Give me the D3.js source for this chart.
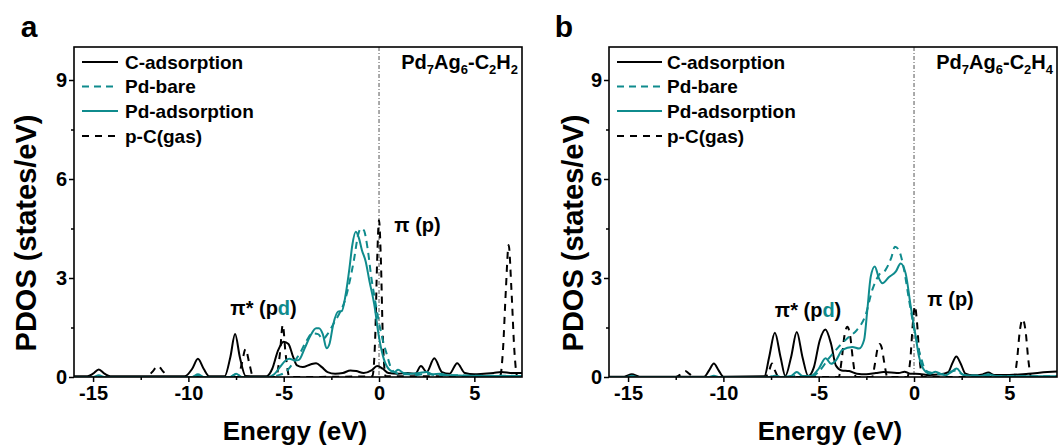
<!DOCTYPE html>
<html>
<head>
<meta charset="utf-8">
<script src="https://cdn.jsdelivr.net/npm/d3@7.9.0/dist/d3.min.js"></script>
<style>
  body { margin: 0; background: #fff; }
  svg text { font-family: "Liberation Sans", Arial, sans-serif; font-weight: bold; }
</style>
</head>
<body>
<svg id="chart" width="1059" height="446"></svg>
<script>
// ---- data (energy in eV, PDOS in states/eV) ----
const xTicks = [-15, -10, -5, 0, 5];
const xMinor = [-12.5, -7.5, -2.5, 2.5];
const yTicks = [0, 3, 6, 9];
const yMinor = [1.5, 4.5, 7.5];
const seriesNames = ['C-adsorption', 'Pd-bare', 'Pd-adsorption', 'p-C(gas)'];

// panel a : Pd7Ag6-C2H2
const cAdsA = [[-16,0.02],[-15.3,0.02],[-15.0,0.1],[-14.7,0.23],[-14.4,0.1],[-14.1,0.02],[-10.2,0.02],[-9.8,0.25],[-9.5,0.55],[-9.2,0.25],[-8.9,0.02],
  [-8.1,0.02],[-7.8,0.6],[-7.55,1.3],[-7.3,0.6],[-7.0,0.03],[-5.9,0.02],[-5.6,0.25],[-5.3,0.8],[-5.0,1.07],[-4.75,1.0],[-4.5,0.6],[-4.3,0.35],
  [-4.0,0.3],[-3.6,0.38],[-3.3,0.42],[-3.0,0.3],[-2.7,0.15],[-2.3,0.1],[-1.9,0.12],[-1.5,0.2],[-1.2,0.18],[-0.8,0.12],[-0.4,0.2],[-0.1,0.33],
  [0.2,0.25],[0.5,0.12],[1.0,0.1],[1.5,0.12],[1.9,0.1],[2.2,0.33],[2.5,0.15],[2.9,0.57],[3.3,0.15],[3.7,0.1],[4.1,0.42],[4.5,0.12],[5.0,0.08],
  [5.5,0.1],[6.0,0.12],[6.4,0.15],[7.0,0.12],[7.5,0.12]];
const pdBareA = [[-16,0],[-9.8,0],[-9.5,0.05],[-9.2,0],[-7.8,0],[-7.5,0.08],[-7.2,0],[-5.7,0],[-5.3,0.05],[-4.9,0.15],[-4.6,0.35],[-4.15,0.72],
  [-3.8,1.1],[-3.5,1.32],[-3.2,1.3],[-2.95,1.15],[-2.7,1.3],[-2.4,1.6],[-2.1,1.9],[-1.8,2.3],[-1.5,3.0],[-1.3,3.6],[-1.1,4.3],[-0.95,4.5],
  [-0.8,4.45],[-0.6,3.9],[-0.4,3.0],[-0.2,2.3],[0.05,1.5],[0.4,0.7],[0.7,0.2],[1.0,0.1],[1.5,0.08],[2.0,0.06],[2.5,0.1],[3.0,0.05],[4,0.05],
  [5,0.04],[6,0.04],[7.5,0.03]];
const pdAdsA = [[-16,0],[-15.0,0],[-14.7,0.05],[-14.4,0],[-9.8,0],[-9.5,0.08],[-9.2,0],[-7.8,0],[-7.5,0.1],[-7.2,0],[-5.8,0],[-5.5,0.08],
  [-5.2,0.3],[-4.9,0.5],[-4.7,0.55],[-4.4,0.5],[-4.2,0.52],[-3.9,0.87],[-3.6,1.25],[-3.3,1.48],[-3.15,1.48],[-2.95,1.3],[-2.75,0.87],[-2.6,1.0],
  [-2.4,1.6],[-2.15,1.98],[-1.95,2.0],[-1.75,2.5],[-1.55,3.3],[-1.4,4.0],[-1.22,4.4],[-1.05,4.2],[-0.9,3.85],[-0.7,3.5],[-0.5,2.9],[-0.25,2.2],
  [0.0,1.2],[0.25,0.55],[0.55,0.22],[0.8,0.15],[1.0,0.22],[1.3,0.12],[1.7,0.1],[2.1,0.12],[2.5,0.15],[2.8,0.08],[3.2,0.1],[3.6,0.05],[4.5,0.04],
  [5.5,0.03],[6.5,0.03],[7.5,0.03]];
const pcGasA = [[-16,0],[-12.2,0],[-11.9,0.15],[-11.6,0.33],[-11.3,0.15],[-11.0,0],[-7.4,0],[-7.2,0.4],[-7.0,0.85],[-6.8,0.4],[-6.6,0],
  [-5.4,0],[-5.2,0.7],[-5.05,1.58],[-4.9,0.7],[-4.7,0],[-0.35,0.02],[-0.2,1.2],[-0.1,3.5],[0.0,4.75],[0.1,3.5],[0.2,1.2],[0.35,0.02],
  [6.35,0.02],[6.5,0.8],[6.65,2.6],[6.8,4.0],[6.95,2.6],[7.1,0.8],[7.25,0.02],[7.5,0]];

// panel b : Pd7Ag6-C2H4
const cAdsB = [[-16,0.01],[-15.2,0.01],[-14.8,0.08],[-14.4,0.01],[-11.0,0.01],[-10.75,0.2],[-10.5,0.41],[-10.25,0.2],[-10.0,0.01],
  [-7.85,0.02],[-7.6,0.6],[-7.3,1.34],[-7.0,0.6],[-6.75,0.03],[-6.45,0.6],[-6.15,1.36],[-5.85,0.6],[-5.55,0.03],[-5.25,0.3],[-4.95,1.1],
  [-4.65,1.44],[-4.35,1.0],[-4.1,0.35],[-3.8,0.2],[-3.4,0.18],[-3.0,0.1],[-2.5,0.08],[-2.0,0.12],[-1.6,0.15],[-1.2,0.14],[-0.8,0.12],
  [-0.5,0.16],[-0.2,0.1],[0.3,0.09],[0.8,0.06],[1.4,0.08],[1.8,0.15],[2.0,0.4],[2.22,0.62],[2.45,0.4],[2.7,0.1],[3.1,0.05],[3.6,0.08],
  [3.9,0.14],[4.2,0.06],[5.0,0.06],[6.0,0.1],[7.0,0.15],[7.5,0.17]];
const pdBareB = [[-16,0],[-7.6,0],[-7.3,0.05],[-7.0,0],[-6.4,0],[-6.15,0.05],[-5.9,0],[-5.4,0],[-5.0,0.16],[-4.46,0.57],[-3.94,0.92],
  [-3.41,1.22],[-3.0,1.42],[-2.54,1.88],[-2.19,2.64],[-1.84,3.09],[-1.5,3.24],[-1.2,3.6],[-1.0,3.95],[-0.8,3.85],[-0.52,3.24],[-0.26,2.33],
  [0.09,1.22],[0.35,0.62],[0.61,0.2],[0.96,0.12],[1.5,0.08],[2.2,0.2],[2.6,0.06],[3.5,0.04],[5,0.03],[7.5,0.02]];
const pdAdsB = [[-16,0],[-15.1,0],[-14.8,0.04],[-14.5,0],[-10.8,0],[-10.5,0.04],[-10.2,0],[-7.6,0],[-7.3,0.04],[-7.0,0],[-6.45,0.03],
  [-6.15,0.15],[-5.85,0.03],[-5.4,0.03],[-5.0,0.25],[-4.64,0.57],[-4.35,0.4],[-4.1,0.5],[-3.76,0.82],[-3.23,0.91],[-2.88,0.86],[-2.62,1.12],
  [-2.45,2.03],[-2.27,3.04],[-2.06,3.35],[-1.84,2.99],[-1.66,2.84],[-1.31,3.03],[-0.96,3.19],[-0.7,3.44],[-0.44,3.14],[-0.17,2.13],
  [0.09,1.22],[0.26,0.62],[0.61,0.16],[0.85,0.1],[1.13,0.16],[1.45,0.08],[1.65,0.05],[1.95,0.15],[2.24,0.26],[2.5,0.1],[2.7,0.05],
  [3.5,0.03],[3.9,0.08],[4.3,0.03],[5.5,0.02],[7.5,0.02]];
const pcGasB = [[-16,0],[-12.5,0],[-12.2,0.1],[-12.0,0.18],[-11.8,0.1],[-11.5,0],[-7.8,0],[-7.6,0.2],[-7.45,0.41],[-7.3,0.2],[-7.1,0],
  [-3.95,0],[-3.8,0.5],[-3.65,1.25],[-3.5,1.52],[-3.35,1.25],[-3.2,0.5],[-3.05,0],[-2.2,0],[-2.05,0.4],[-1.9,0.9],[-1.8,1.0],[-1.7,0.9],
  [-1.55,0.4],[-1.4,0],[-0.35,0],[-0.2,0.5],[-0.05,1.7],[0.05,2.15],[0.15,1.7],[0.3,0.5],[0.45,0],[5.25,0],[5.4,0.5],[5.55,1.4],[5.7,1.75],
  [5.85,1.4],[6.0,0.5],[6.15,0],[7.5,0]];

const teal = '#0f8b8d';
const styles = [
  { color: '#000', dash: null },
  { color: teal, dash: '7,5' },
  { color: teal, dash: null },
  { color: '#000', dash: '7,6' }
];

const svg = d3.select('#chart');
const W = 448, H = 330, plotTop = 47;

function drawPanel(cfg) {
  const g = svg.append('g').attr('transform', `translate(${cfg.left},${plotTop})`);
  const x = d3.scaleLinear().domain([-16, 7.5]).range([0, W]);
  const y = d3.scaleLinear().domain([0, 10]).range([H, 0]);

  const clipId = 'clip-' + cfg.label;
  g.append('clipPath').attr('id', clipId)
    .append('rect').attr('width', W).attr('height', H);

  // zero (Fermi level) line
  g.append('line')
    .attr('x1', x(0)).attr('x2', x(0)).attr('y1', 0).attr('y2', H)
    .attr('stroke', '#555').attr('stroke-width', 1).attr('stroke-dasharray', '4,2,1,2');

  const line = d3.line().x(d => x(d[0])).y(d => y(d[1])).curve(d3.curveMonotoneX);
  const plot = g.append('g').attr('clip-path', `url(#${clipId})`);
  // draw order: p-C(gas), C-adsorption, Pd-bare, Pd-adsorption
  [3, 0, 1, 2].forEach(i => {
    plot.append('path')
      .datum(cfg.series[i])
      .attr('d', line)
      .attr('fill', 'none')
      .attr('stroke', styles[i].color)
      .attr('stroke-width', 2)
      .attr('stroke-dasharray', styles[i].dash);
  });

  // axes
  const xAxis = g.append('g').attr('transform', `translate(0,${H})`)
    .call(d3.axisBottom(x).tickValues(xTicks).tickSize(5).tickPadding(4));
  g.append('g').attr('transform', `translate(0,${H})`)
    .call(d3.axisBottom(x).tickValues(xMinor).tickSize(3).tickFormat(''));
  const yAxis = g.append('g')
    .call(d3.axisLeft(y).tickValues(yTicks).tickSize(5).tickPadding(2));
  g.append('g')
    .call(d3.axisLeft(y).tickValues(yMinor).tickSize(3).tickFormat(''));
  g.selectAll('.domain').remove();
  g.selectAll('.tick line').attr('stroke', '#000').attr('stroke-width', 1.5);
  xAxis.selectAll('text').attr('font-size', 20).attr('fill', '#000')
    .text(d => d < 0 ? '-' + Math.abs(d) : d);
  yAxis.selectAll('text').attr('font-size', 20).attr('fill', '#000');

  // frame
  g.append('rect').attr('width', W).attr('height', H)
    .attr('fill', 'none').attr('stroke', '#000').attr('stroke-width', 1.6);

  // legend
  seriesNames.forEach((name, i) => {
    const ly = cfg.legendY[i];
    g.append('line')
      .attr('x1', 8).attr('x2', cfg.legendLine).attr('y1', ly).attr('y2', ly)
      .attr('stroke', styles[i].color).attr('stroke-width', 2)
      .attr('stroke-dasharray', styles[i].dash);
    g.append('text').attr('x', cfg.legendText).attr('y', ly).attr('dy', '0.35em')
      .attr('font-size', 19).text(name);
  });

  // compound label with subscripts
  const comp = g.append('text').attr('x', W - 4).attr('y', 22)
    .attr('text-anchor', 'end').attr('font-size', 20);
  let shift = 0;
  cfg.compound.forEach(([t, sub]) => {
    comp.append('tspan').attr('dy', -shift).text(t);
    comp.append('tspan').attr('font-size', 13).attr('dy', 5).text(sub);
    shift = 5;
  });

  // peak annotations
  const pStar = g.append('text').attr('x', x(cfg.piStar[0])).attr('y', y(cfg.piStar[1]))
    .attr('dy', '0.35em').attr('font-size', 20);
  pStar.append('tspan').text('π* (p');
  pStar.append('tspan').attr('fill', teal).text('d');
  pStar.append('tspan').text(')');
  g.append('text').attr('x', x(cfg.pi[0])).attr('y', y(cfg.pi[1]))
    .attr('dy', '0.35em').attr('font-size', 20).text('π (p)');

  // axis titles and panel letter
  svg.append('text').attr('x', cfg.left + W / 2 - 3).attr('y', 440)
    .attr('text-anchor', 'middle').attr('font-size', 26).text('Energy (eV)');
  svg.append('text')
    .attr('transform', `translate(${cfg.left - cfg.titleOff},233) rotate(-90)`)
    .attr('text-anchor', 'middle').attr('dy', '0.35em').attr('font-size', 29)
    .text('PDOS (states/eV)');
  svg.append('text').attr('x', cfg.left - 45).attr('y', 37)
    .attr('text-anchor', 'middle').attr('font-size', 30).text(cfg.label);
}

drawPanel({
  label: 'a', left: 74, titleOff: 48,
  series: [cAdsA, pdBareA, pdAdsA, pcGasA],
  legendY: [15, 39.5, 64, 89], legendLine: 44, legendText: 51,
  compound: [['Pd', '7'], ['Ag', '6'], ['-C', '2'], ['H', '2']],
  piStar: [-7.8, 2.08], pi: [0.8, 4.62]
});
drawPanel({
  label: 'b', left: 609, titleOff: 36,
  series: [cAdsB, pdBareB, pdAdsB, pcGasB],
  legendY: [15, 39.5, 64, 89], legendLine: 53, legendText: 58,
  compound: [['Pd', '7'], ['Ag', '6'], ['-C', '2'], ['H', '4']],
  piStar: [-7.3, 2.03], pi: [0.7, 2.36]
});
</script>
</body>
</html>
